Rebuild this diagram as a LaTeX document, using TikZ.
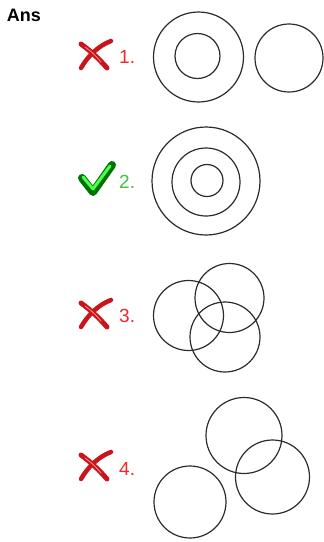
\documentclass[tikz,border=0pt]{standalone}
\usepackage{fontspec}
\setmainfont{Liberation Sans}
\usepackage{tikz}

\definecolor{wrongred}{HTML}{F0272B}
\definecolor{rightgreen}{HTML}{3EC43E}
\definecolor{crossred}{HTML}{C8141A}
\definecolor{ringgray}{HTML}{2B2B2B}

\begin{document}
\begin{tikzpicture}[x=1pt,y=-1pt,
  ring/.style={draw=ringgray,line width=1.2pt},
  numlabel/.style={anchor=west,font=\fontsize{19}{19}\selectfont,inner sep=0pt}]
  \useasboundingbox (0,0) rectangle (324,542);
  \node[font=\bfseries\fontsize{18}{18}\selectfont] (ans) at (24,15) {Ans};
  % wrong marks
  \foreach \y in {56,315,467} {
    \draw[crossred,line width=5pt,line cap=round] (81,\y-12) .. controls (92,\y-4) and (100,\y+4) .. (107,\y+12);
    \draw[crossred,line width=4.5pt,line cap=round] (111,\y-15) .. controls (98,\y-10) and (88,\y) .. (81,\y+12);
    \draw[red!45!white,line width=0.8pt,line cap=round] (85,\y-9) .. controls (92,\y-4) and (97,\y+1) .. (101,\y+6);
  }
  % right mark
  \draw[green!45!black,line width=8pt,line cap=round,line join=round] (82,178) -- (93,192) -- (112,165);
  \draw[green!70!white,line width=3pt,line cap=round,line join=round] (83,177) -- (93,189) -- (110,166);
  \node[numlabel,wrongred] (n1) at (119,57) {1.};
  \node[numlabel,rightgreen] (n2) at (119,182) {2.};
  \node[numlabel,wrongred] (n3) at (119,316) {3.};
  \node[numlabel,wrongred] (n4) at (119,469) {4.};
  % 1
  \draw[ring] (198.5,57) circle (45);
  \draw[ring] (197.5,56) circle (22.5);
  \draw[ring] (289,58) circle (34);
  % 2
  \draw[ring] (206,181) circle (54);
  \draw[ring] (206,182) circle (34);
  \draw[ring] (207,180.5) circle (16);
  % 3
  \draw[ring] (188.5,315.5) circle (35);
  \draw[ring] (229.5,298) circle (34.5);
  \draw[ring] (225,337) circle (35);
  % 4
  \draw[ring] (244,435.5) circle (38);
  \draw[ring] (272.5,477) circle (37);
  \draw[ring] (190,502) circle (36);
\end{tikzpicture}
\end{document}
